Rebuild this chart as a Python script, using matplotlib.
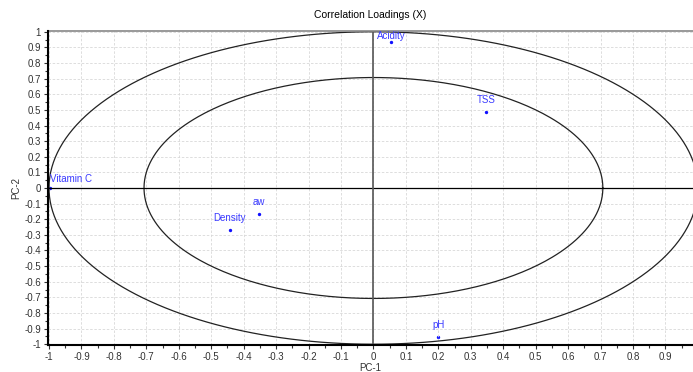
import numpy as np
import matplotlib
matplotlib.use("Agg")
import matplotlib.pyplot as plt
from matplotlib.ticker import MultipleLocator

plt.rcParams['font.family'] = ['Liberation Sans', 'DejaVu Sans']

# loadings
names = ["Acidity", "TSS", "Vitamin C", "aw", "Density", "pH"]
pc1 = [0.055, 0.348, -0.998, -0.354, -0.443, 0.20]
pc2 = [0.936, 0.487, 0.0, -0.167, -0.27, -0.955]

fig = plt.figure(figsize=(6.93, 3.72), dpi=100)
ax = fig.add_axes([0.0693, 0.0726, 0.9307, 0.8441])

t = np.linspace(0, 2 * np.pi, 400)
for r in [1.0, np.sqrt(0.5)]:
    ax.plot(r * np.cos(t), r * np.sin(t), color="#222222", lw=0.9, zorder=2)

ax.axhline(0, color="black", lw=0.9, zorder=2)
ax.axvline(0, color="#555555", lw=1.2, zorder=2)

ax.scatter(pc1, pc2, s=2, color="#1010ff", zorder=1)
# labels near the plot edge get pushed inside
label_dy = {"Acidity": 0.7, "Vitamin C": 3}
for n, x, y in zip(names, pc1, pc2):
    ha = "left" if x < -0.9 else "center"
    ax.annotate(n, (x, y), xytext=(0, label_dy.get(n, 5)), textcoords="offset points",
                ha=ha, va="bottom", color="#3a3aff", fontsize=7, zorder=4)

ax.set_xlim(-1.003, 0.985)
ax.set_ylim(-1.005, 1.005)
ax.xaxis.set_major_locator(MultipleLocator(0.1))
ax.yaxis.set_major_locator(MultipleLocator(0.1))
ax.xaxis.set_minor_locator(MultipleLocator(0.05))
ax.yaxis.set_minor_locator(MultipleLocator(0.05))
fmt = lambda v, p: ("%g" % round(v, 2)) if abs(v) > 1e-9 else "0"
ax.xaxis.set_major_formatter(plt.FuncFormatter(fmt))
ax.yaxis.set_major_formatter(plt.FuncFormatter(fmt))
ax.grid(True, which="major", color="#d8d8d8", ls=(0, (3, 2)), lw=0.6, zorder=0)
ax.tick_params(which="both", direction="out", labelsize=7, colors="#333333", width=0.8, pad=2)
ax.tick_params(which="major", length=3)
ax.tick_params(which="minor", length=2)
for s in ["top", "right"]:
    ax.spines[s].set_visible(False)
ax.spines["left"].set_linewidth(1.5)
ax.spines["bottom"].set_linewidth(1.5)
ax.axhline(1.005, color="#888888", lw=1.2, clip_on=False)

ax.set_title("Correlation Loadings (X)", fontsize=7.5, pad=9)
ax.set_xlabel("PC-1", fontsize=7, color="#333333", labelpad=1)
ax.set_ylabel("PC-2", fontsize=7, color="#333333", labelpad=2)

fig.savefig("out.png", dpi=100)
